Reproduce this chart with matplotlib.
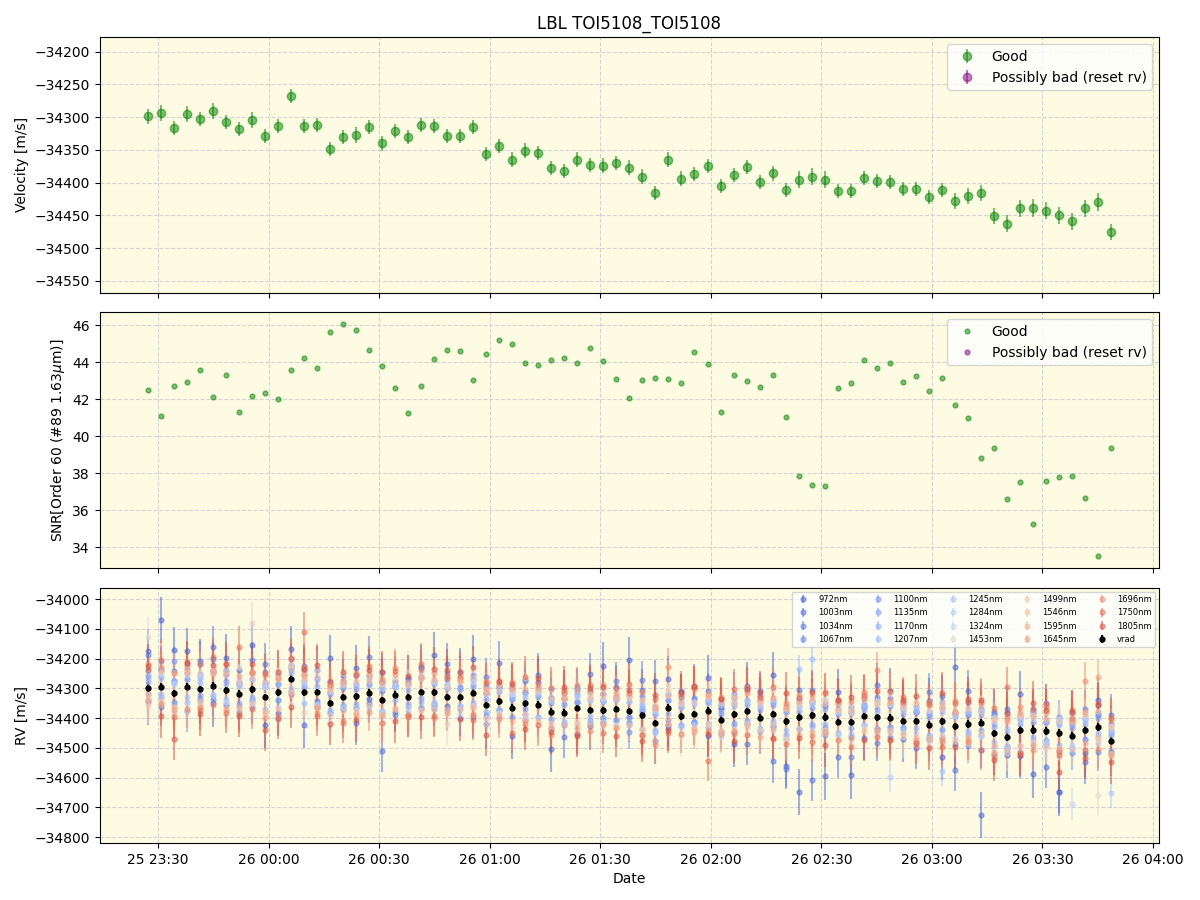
import matplotlib
matplotlib.use('Agg')
import matplotlib.pyplot as plt
import matplotlib.dates as mdates
import pandas as pd

# observation times (night of the 25th -> 26th)
obs_time = [
    '23:27:10', '23:30:42', '23:34:14', '23:37:46', '23:41:18', '23:44:50', '23:48:22', '23:51:54',
    '23:55:26', '23:58:58', '00:02:30', '00:06:02', '00:09:34', '00:13:06', '00:16:38', '00:20:10',
    '00:23:42', '00:27:14', '00:30:46', '00:34:18', '00:37:50', '00:41:22', '00:44:54', '00:48:26',
    '00:51:58', '00:55:30', '00:59:02', '01:02:34', '01:06:06', '01:09:38', '01:13:10', '01:16:42',
    '01:20:14', '01:23:46', '01:27:18', '01:30:50', '01:34:22', '01:37:54', '01:41:26', '01:44:58',
    '01:48:30', '01:52:02', '01:55:34', '01:59:06', '02:02:38', '02:06:10', '02:09:42', '02:13:14',
    '02:16:46', '02:20:18', '02:23:50', '02:27:22', '02:30:54', '02:34:26', '02:37:58', '02:41:30',
    '02:45:02', '02:48:34', '02:52:06', '02:55:38', '02:59:10', '03:02:42', '03:06:14', '03:09:46',
    '03:13:18', '03:16:50', '03:20:22', '03:23:54', '03:27:26', '03:30:58', '03:34:30', '03:38:02',
    '03:41:34', '03:45:06', '03:48:38',
]

vrad = [
    -34299, -34294, -34317, -34295, -34303, -34291, -34307, -34318, -34304, -34329,
    -34314, -34268, -34314, -34312, -34349, -34330, -34327, -34315, -34340, -34321,
    -34330, -34312, -34314, -34329, -34329, -34315, -34356, -34344, -34365, -34351,
    -34355, -34378, -34382, -34365, -34373, -34374, -34370, -34377, -34391, -34416,
    -34365, -34394, -34387, -34375, -34405, -34388, -34376, -34399, -34386, -34411,
    -34396, -34391, -34396, -34413, -34413, -34393, -34398, -34399, -34410, -34410,
    -34422, -34411, -34428, -34420, -34416, -34451, -34463, -34439, -34439, -34443,
    -34450, -34459, -34439, -34430, -34476,
]

svrad = [
    12, 12, 11, 12, 11, 12, 11, 11, 12, 11, 11, 11, 11, 11, 11,
    11, 12, 11, 11, 11, 11, 11, 11, 11, 11, 11, 11, 11, 11, 11,
    11, 11, 11, 11, 11, 11, 11, 11, 11, 11, 11, 11, 11, 11, 11,
    11, 11, 11, 11, 11, 13, 13, 13, 11, 11, 11, 11, 11, 11, 11,
    11, 11, 12, 12, 12, 12, 13, 13, 14, 13, 13, 13, 13, 14, 12,
]

snr = [
    42.49, 41.08, 42.70, 42.92, 43.57, 42.11, 43.30, 41.30, 42.16, 42.32,
    42.00, 43.57, 44.22, 43.68, 45.62, 46.05, 45.73, 44.65, 43.78, 42.59,
    41.24, 42.70, 44.16, 44.65, 44.59, 43.03, 44.43, 45.19, 44.97, 43.95,
    43.84, 44.11, 44.22, 43.95, 44.76, 44.05, 43.08, 42.05, 43.03, 43.14,
    43.08, 42.86, 44.54, 43.89, 41.30, 43.30, 42.97, 42.65, 43.30, 41.03,
    37.84, 37.35, 37.30, 42.59, 42.86, 44.11, 43.68, 43.95, 42.92, 43.24,
    42.43, 43.14, 41.68, 40.97, 38.81, 39.35, 36.59, 37.51, 35.24, 37.57,
    37.78, 37.84, 36.65, 33.51, 39.35,
]

wavelengths = [972, 1003, 1034, 1067, 1100, 1135, 1170, 1207, 1245, 1284,
               1324, 1453, 1499, 1546, 1595, 1645, 1696, 1750, 1805]
band_err = [78, 72, 62, 56, 50, 45, 45, 45, 50, 50,
            55, 70, 60, 55, 55, 58, 62, 68, 72]

# per-band offset from vrad [m/s]
band_dev = [
    [-45, 224, 145, 120, 85, -60, 110, 35, 150, -95, 60, 100, -110, 75, 150,
     -40, 95, -20, 60, 45, 65, -55, 125, -30, 85, 115, -65, 55, -95, 40,
     75, -125, 65, 20, -55, 150, -35, 172, 15, -60, 95, 65, -25, 110, 40,
     -100, 85, -45, 130, -150, -252, 45, -200, 100, -180, 60, -40, 90, -60, 30,
     80, -120, 198, 40, -309, 70, -60, 120, -150, 30, -200, 50, -80, 90, -40],
    [125, 60, 40, -80, 95, 130, -50, 80, -35, 110, -70, 45, 90, -30, 70,
     55, -90, 120, -170, 30, -60, 85, -40, 110, 65, -80, 40, 130, 70, -55,
     100, 45, -80, 60, 120, -40, 75, -20, 85, 140, -60, 30, 95, -85, 55,
     70, -110, 60, -159, 40, 90, -217, 35, -117, 50, -75, 110, -30, 65, -90,
     -50, 85, -145, 110, 40, -70, 95, -90, 60, -120, -198, 75, -110, 40, 85],
    [110, -70, 75, 60, -40, 90, 55, -60, 100, 40, -85, 35, 75, -50, 60,
     30, 70, -35, 95, -60, 50, 80, -45, 60, -70, 45, 95, -30, 60, 80,
     -40, 75, 50, -90, 65, 30, 95, -40, 120, 55, -70, 80, -30, 65, 50,
     -60, 70, 90, -40, -160, 60, 85, -50, 70, -117, 30, -85, 65, 40, -70,
     110, 45, -60, 75, -90, 50, 80, -75, 60, 95, -60, 40, 70, -85, 55],
    [40, 55, -30, 75, 50, -45, 65, 40, -60, 85, 30, -50, 60, 45, -35,
     70, -40, 55, 30, -70, 60, 45, -55, 80, 35, -40, 65, 50, -30, 75,
     45, -60, 30, 70, -45, 55, 40, -70, 65, 30, -40, 85, 50, -55, 35,
     60, -45, 75, 40, -60, -40, 50, -35, 65, -50, 40, 70, -65, 55, 30,
     -40, 65, 50, -75, 45, 60, -50, 35, 70, -45, 55, -60, 40, 75, -35],
    [60, 85, 110, 45, -30, 50, 70, -40, 55, 35, -25, 65, 40, -50, 30,
     45, 25, -40, 60, 35, -30, 50, 40, -45, 25, 60, -35, 45, 30, -20,
     55, 30, -40, 45, 60, -25, 35, 50, -45, 40, 25, -30, 55, 35, -50,
     40, -35, 55, 30, -45, 50, 25, -60, 45, 35, -30, 60, 40, -25, 50,
     35, -55, 45, 30, -40, 60, -35, 50, 25, -45, 40, 55, -30, 45, 35],
    [20, -35, 40, 25, -20, 45, 30, -30, 35, 50, -25, 30, 20, -40, 35,
     -25, 40, 30, -35, 25, 45, -20, 35, 30, -40, 25, 20, -30, 40, 35,
     30, -25, 45, 20, -35, 30, 40, -20, 35, -30, 25, 45, -25, 30, 20,
     -30, 35, 25, -40, 30, 20, -35, 45, 25, -20, 35, 30, -45, 25, 40,
     25, -30, 40, 35, -25, 30, -40, 20, 45, -30, 35, 25, -35, 30, 20],
    [-20, 30, -35, 25, 40, -30, 20, 35, -25, 45, 30, -40, 25, 20, -30,
     35, -25, 30, 45, -20, 25, -35, 30, 40, -30, 20, -25, 35, 30, -40,
     25, 35, -30, 20, 40, -25, 30, -35, 25, 45, -20, 30, -30, 35, 25,
     -35, 20, 40, -25, 30, 35, -30, 25, -40, 30, 20, -35, 45, -20, 30,
     40, -25, 30, -35, 25, 20, -30, 45, -25, 30, -40, 35, 20, -30, 25],
    [30, -25, 40, -35, 20, 45, -30, 25, 35, -40, 30, 20, -35, 40, -25,
     -30, 35, 25, -40, 30, -20, 45, -35, 30, 25, -30, 40, -25, 35, 20,
     35, -30, 25, 40, -20, 35, -35, 30, 20, -25, 45, -30, 35, 25, -40,
     30, 25, -35, 40, -30, 162, 188, -25, 35, -40, 30, 20, -30, 45, -25,
     -35, 30, 40, -25, 35, -30, 20, 45, -35, 30, 25, -40, 35, -20, 30],
    [-45, 40, 30, -50, 35, 55, -40, 30, -35, 45, 50, -30, 40, -45, 35,
     45, -35, 50, -40, 30, 40, -50, 35, 45, -30, 40, -45, 30, 50, -35,
     -40, 50, -35, 45, 30, -45, 40, 35, -50, 30, 45, -35, 40, -40, 50,
     35, -45, 40, -30, 50, -40, 35, 45, -35, 30, 40, -50, 45, -30, 35,
     -40, -168, 45, -35, 50, -45, 30, 40, -50, 35, 45, -40, 30, 50, -176],
    [50, -40, 35, -55, 45, -30, 50, 40, -45, 35, -50, 45, 30, -40, 55,
     -35, 45, -50, 40, 30, -45, 55, -30, 40, 50, -40, 35, -55, 45, 30,
     40, -50, 45, 35, -40, 30, -55, 50, 40, -35, 45, 30, -50, 40, -45,
     55, 35, -40, 45, -50, 30, 40, -45, 35, 50, -30, 45, -199, 35, -40,
     45, -50, 35, 40, -45, 55, -35, 30, 45, -40, 50, -30, 40, -55, 35],
    [-50, 45, -60, 40, -45, 55, -40, 50, -55, 35, 60, -45, 40, -50, 45,
     40, -55, 45, -40, 60, -35, 50, -45, 40, -60, 35, 55, -40, 45, -50,
     -45, 40, 55, -50, 35, -40, 60, -45, 50, 40, -55, 45, -35, 50, -60,
     50, -40, 45, -55, 40, 35, -50, 60, -45, 40, -35, 55, 45, -40, 50,
     -55, 45, -40, 50, -45, 40, 55, -50, 35, -45, 40, -230, 45, -40, 50],
    [170, -60, 70, -80, 55, 65, -70, 90, 225, -50, 75, -85, 60, 70, -65,
     80, -55, 65, -75, 60, 85, -60, 70, -90, 55, 75, -65, 60, -70, 85,
     -60, 75, 65, -80, 55, 70, -55, 85, -70, 60, 75, -65, 90, -55, 70,
     65, -75, 60, 80, -60, 70, -85, 55, 65, -70, 75, -60, 80, -55, 65,
     -70, 60, 75, -65, 85, -60, 70, -75, 55, 65, -80, 70, -60, -228, -45],
    [-60, 50, -45, 60, -55, 45, 65, -50, 40, -60, 55, 45, -65, 50, -40,
     55, -45, 60, -50, 45, -65, 50, 40, -55, 60, -45, 50, -40, 65, -55,
     45, -60, 50, -45, 55, 40, -60, 50, -50, 45, 60, -55, 40, -45, 55,
     -50, 60, -40, 55, -60, 45, 50, -55, 40, 60, -45, 55, -50, 45, -60,
     50, -45, 55, -60, 40, 50, -55, 45, -40, 60, -50, 45, 55, -45, 50],
    [-35, -50, -70, 45, -40, 55, -60, 40, -45, 50, -55, 35, 45, -50, 40,
     -45, 50, -40, 55, -50, 40, 45, -55, 35, -40, 50, -45, 40, 55, -35,
     50, -40, 45, -55, 40, -50, 35, 45, -45, 55, -35, 40, -50, 45, -40,
     40, -55, 50, -35, 45, -40, 55, -45, 40, 35, -50, 45, -40, 50, -55,
     -45, 40, -50, 55, -35, 45, -40, 50, 45, -55, 40, -45, 50, -35, 45],
    [-20, 55, -45, 50, -60, 40, 55, -45, 60, -50, 45, -40, 55, -55, 50,
     45, -55, 40, 60, -45, 50, -60, 45, -40, 55, -50, 40, 60, -45, 50,
     -55, 45, -40, 60, -50, 55, 45, -45, 50, -60, 40, 55, -45, 50, -40,
     55, -45, 60, -50, 40, 50, -55, 45, -60, 40, 55, -40, 50, -45, 60,
     -50, 55, 45, -45, 60, -40, 50, -55, 45, 40, -60, 50, -45, 55, -40],
    [-45, 65, -55, 70, -60, 50, -65, 60, 55, -70, 50, -55, 65, -50, 60,
     55, -65, 60, -50, 70, -60, 50, 65, -55, 60, -70, 55, -50, 65, -60,
     60, -55, 50, -70, 65, -45, 55, 60, -65, 50, -55, 70, -60, 55, -50,
     -55, 60, -65, 55, 50, -60, 70, -50, 60, -55, 65, -45, 55, 60, -65,
     65, -60, 50, -55, 70, -65, 55, 60, -50, 65, -55, 50, 60, 167, -50],
    [80, -60, 70, -75, 85, -65, 90, -70, 60, 75, -80, 65, 85, -70, 60,
     -75, 80, -65, 70, 90, -60, 75, -85, 65, 70, -75, 80, -60, 85, -70,
     70, -80, 65, 75, -70, 85, -65, 60, 80, -75, 137, -60, 85, -70, 75,
     -65, 80, 70, -85, 60, 75, -70, 85, -60, 70, 80, 158, -75, 65, -80,
     75, -70, 85, -60, 70, -80, 65, 75, -70, 80, -65, 60, 164, -75, 70],
    [60, 90, -80, 85, -70, 95, -75, 158, -65, 80, -90, 70, 204, -80, 75,
     -85, 70, 90, -75, 80, -65, 95, -80, 70, 85, -90, 75, 65, -85, 90,
     -70, 80, 75, -90, 85, -75, 70, 90, -65, 80, -85, 75, 95, -170, 70,
     85, -80, 70, 90, -75, 65, -90, 80, 75, -85, 70, -65, 90, 80, -75,
     70, -85, 80, 75, -90, 85, 166, -80, 70, 90, -75, 85, -70, 80, 75],
    [75, -100, -152, 80, -85, 70, 90, -75, 85, -111, 70, -95, 80, 90, -70,
     85, -80, 75, 95, -90, 70, -85, 80, 90, -75, 85, -100, 70, 80, -85,
     90, -70, 85, -95, 75, 80, -90, 70, -85, 95, -75, 80, 90, -80, 70,
     -90, 75, 85, -80, 95, -70, 80, -95, 75, 85, -80, 90, -75, 70, 85,
     -80, 95, -70, 85, 75, -90, 80, -85, 90, 70, -132, 80, -95, 75, -73],
]

# build datetimes: evening times belong to the 25th, the rest to the 26th
dates = []
for t in obs_time:
    day = '2024-01-25' if int(t[:2]) >= 12 else '2024-01-26'
    dates.append(pd.Timestamp(day + ' ' + t))

bg = '#fdfce3'
fig, (ax1, ax2, ax3) = plt.subplots(3, 1, figsize=(12, 9), sharex=True)
plt.subplots_adjust(left=0.083, right=0.966, top=0.9586, bottom=0.0633, hspace=0.078)

# velocity panel
ax1.errorbar(dates, vrad, yerr=svrad, fmt='o', color='green', alpha=0.5, label='Good')
ax1.errorbar([], [], yerr=[], fmt='o', color='purple', alpha=0.5, label='Possibly bad (reset rv)')
ax1.set_ylabel('Velocity [m/s]')
ax1.set_ylim(-34568, -34178)
ax1.set_title('LBL TOI5108_TOI5108')
ax1.legend(loc='upper right')

# snr panel
ax2.plot(dates, snr, 'o', color='green', alpha=0.5, ms=3.5, label='Good')
ax2.plot([], [], 'o', color='purple', alpha=0.5, ms=3.5, label='Possibly bad (reset rv)')
ax2.set_ylabel('SNR[Order 60 (#89 1.63$\\mu$m)]')
ax2.legend(loc='upper right')

# per-band rv panel
cmap = plt.cm.coolwarm
wmin, wmax = wavelengths[0], wavelengths[-1]
for wl, err, dev in zip(wavelengths, band_err, band_dev):
    rv = [v + d for v, d in zip(vrad, dev)]
    frac = 0.05 + 0.85 * (wl - wmin) / (wmax - wmin)
    ax3.errorbar(dates, rv, yerr=err, fmt='o', ms=3.5, alpha=0.5,
                 color=cmap(frac), label='%dnm' % wl)
ax3.errorbar(dates, vrad, yerr=svrad, fmt='o', ms=3.5, color='black', label='vrad')
ax3.set_ylabel('RV [m/s]')
ax3.set_ylim(-34820, -33962)
ax3.set_xlabel('Date')
ax3.legend(loc='upper right', ncol=5, fontsize=6)

for ax in (ax1, ax2, ax3):
    ax.set_facecolor(bg)
    ax.grid(color='lightgray', linestyle='--')

ax3.xaxis.set_major_locator(mdates.MinuteLocator(byminute=[0, 30]))
ax3.xaxis.set_major_formatter(mdates.DateFormatter('%d %H:%M'))

plt.savefig('out.png', dpi=100)
